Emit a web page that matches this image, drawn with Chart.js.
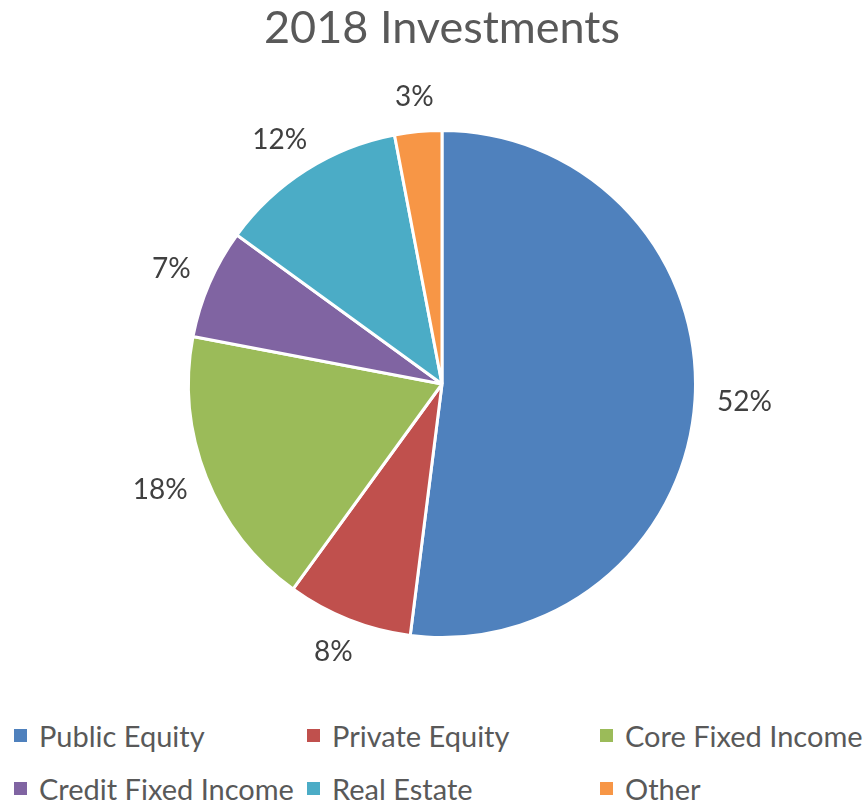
<!DOCTYPE html>
<html>
<head>
<meta charset="utf-8">
<script src="https://cdn.jsdelivr.net/npm/chart.js@4"></script>
<style>
  body { margin: 0; background: #fff; }
  #wrap { position: relative; width: 867px; height: 803px; }
  #chart { position: absolute; left: 0; top: 0; }
  #legend { position: absolute; left: 14px; top: 718px; width: 860px;
    display: grid; grid-template-columns: 293px 293px 280px; row-gap: 19px;
    font-family: Lato, sans-serif; font-size: 29px; color: #595959; }
  #legend div { display: flex; align-items: center; white-space: nowrap; height: 34px; }
  #legend span.box { width: 13px; height: 13px; margin-right: 12px; flex: none; }
</style>
</head>
<body>
<div id="wrap">
  <canvas id="chart"></canvas>
  <div id="legend"></div>
</div>
<script>
// chart data
const categories = ['Public Equity', 'Private Equity', 'Core Fixed Income', 'Credit Fixed Income', 'Real Estate', 'Other'];
const shares = [52, 8, 18, 7, 12, 3];
const colors = ['#4F81BD', '#C0504D', '#9BBB59', '#8064A2', '#4BACC6', '#F79646'];

// percent labels outside each slice, box pushed out so its near edge sits off the rim
const outsideLabels = {
  id: 'outsideLabels',
  afterDatasetsDraw(chart) {
    const ctx = chart.ctx;
    const meta = chart.getDatasetMeta(0);
    ctx.save();
    ctx.font = '28px Lato, sans-serif';
    ctx.fillStyle = '#404040';
    ctx.textAlign = 'center';
    ctx.textBaseline = 'middle';
    meta.data.forEach((arc, i) => {
      const p = arc.getProps(['x', 'y', 'startAngle', 'endAngle', 'outerRadius'], true);
      const mid = (p.startAngle + p.endAngle) / 2;
      const text = shares[i] + '%';
      const w = ctx.measureText(text).width;
      const h = 26;
      const cos = Math.cos(mid), sin = Math.sin(mid);
      const r = p.outerRadius + 22;
      ctx.fillText(text, p.x + cos * r + cos * w / 2, p.y + sin * r + sin * h / 2);
    });
    ctx.restore();
  }
};

const canvas = document.getElementById('chart');
canvas.width = 867;
canvas.height = 700;

const chart = new Chart(canvas, {
  type: 'pie',
  data: {
    labels: categories,
    datasets: [{
      data: shares,
      backgroundColor: colors,
      borderColor: '#ffffff',
      borderWidth: 3
    }]
  },
  options: {
    responsive: false,
    animation: false,
    layout: { padding: { left: 187, right: 170, top: 0, bottom: 61 } },
    plugins: {
      legend: { display: false },
      tooltip: { enabled: false },
      title: {
        display: true,
        text: '2018 Investments',
        color: '#595959',
        font: { family: 'Lato, sans-serif', size: 45, weight: 'normal' },
        padding: { top: 1, bottom: 74 }
      }
    }
  },
  plugins: [outsideLabels]
});

// html legend in three columns
const legend = document.getElementById('legend');
categories.forEach((name, i) => {
  const item = document.createElement('div');
  item.innerHTML = '<span class="box" style="background:' + colors[i] + '"></span>' + name;
  legend.appendChild(item);
});
</script>
</body>
</html>
